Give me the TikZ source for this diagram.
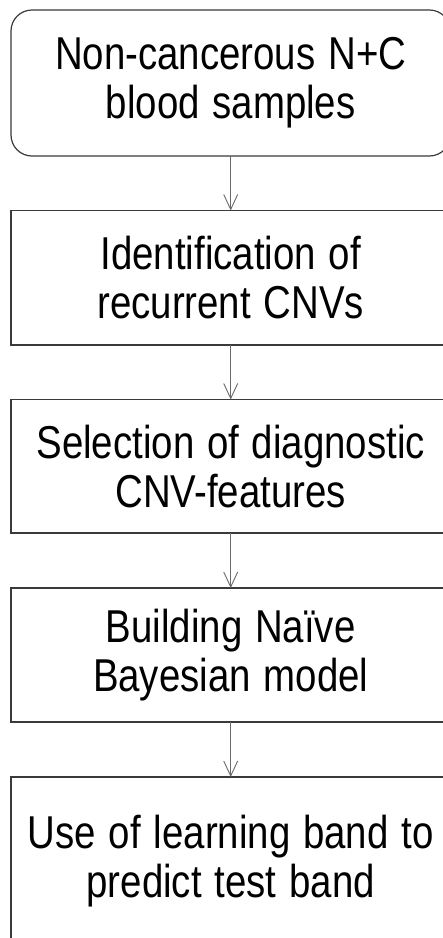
\documentclass[tikz,border=0pt]{standalone}
\usepackage{fontspec}
\usepackage{graphicx}
\setmainfont{Liberation Sans}
\usetikzlibrary{arrows.meta}
\definecolor{boxline}{HTML}{3A3A3A}
\definecolor{arrline}{HTML}{6A6A6A}
\newcommand{\tallline}[1]{\scalebox{1}[1.2]{#1}}
\tikzset{
  stepbox/.style={draw=boxline, line width=1.2pt, minimum width=439.4pt, outer sep=0pt,
    inner sep=0pt, text width=430pt, align=center,
    font=\fontsize{38.4}{49}\selectfont},
  flowarr/.style={draw=arrline, line width=0.9pt, -{Straight Barb[length=15pt,width=14pt,line width=0.9pt]}}
}
\begin{document}
\begin{tikzpicture}[x=1pt,y=-1pt]
\useasboundingbox (0,0) rectangle (443,938);
\fill[white] (0,0) rectangle (443,938);
\clip (0,0) rectangle (443,938);
\node[stepbox, rounded corners=21pt, minimum height=146pt] (b1) at (230.7,83) {\tallline{Non-cancerous N+C}\\\tallline{blood samples}};
\node[stepbox, minimum height=134.5pt] (b2) at (230.7,277.75) {\tallline{Identification of}\\\tallline{recurrent CNVs}};
\node[stepbox, minimum height=133.5pt] (b3) at (230.7,466.25) {\tallline{Selection of diagnostic}\\\tallline{CNV-features}};
\node[stepbox, minimum height=134pt] (b4) at (230.7,655) {\tallline{Building Naïve}\\\tallline{Bayesian model}};
\node[stepbox, minimum height=168pt] (b5) at (230.7,861) {\tallline{Use of learning band to}\\\tallline{predict test band}};
\draw[flowarr] (b1.south) -- (b2.north);
\draw[flowarr] (b2.south) -- (b3.north);
\draw[flowarr] (b3.south) -- (b4.north);
\draw[flowarr] (b4.south) -- (b5.north);
\end{tikzpicture}
\end{document}
